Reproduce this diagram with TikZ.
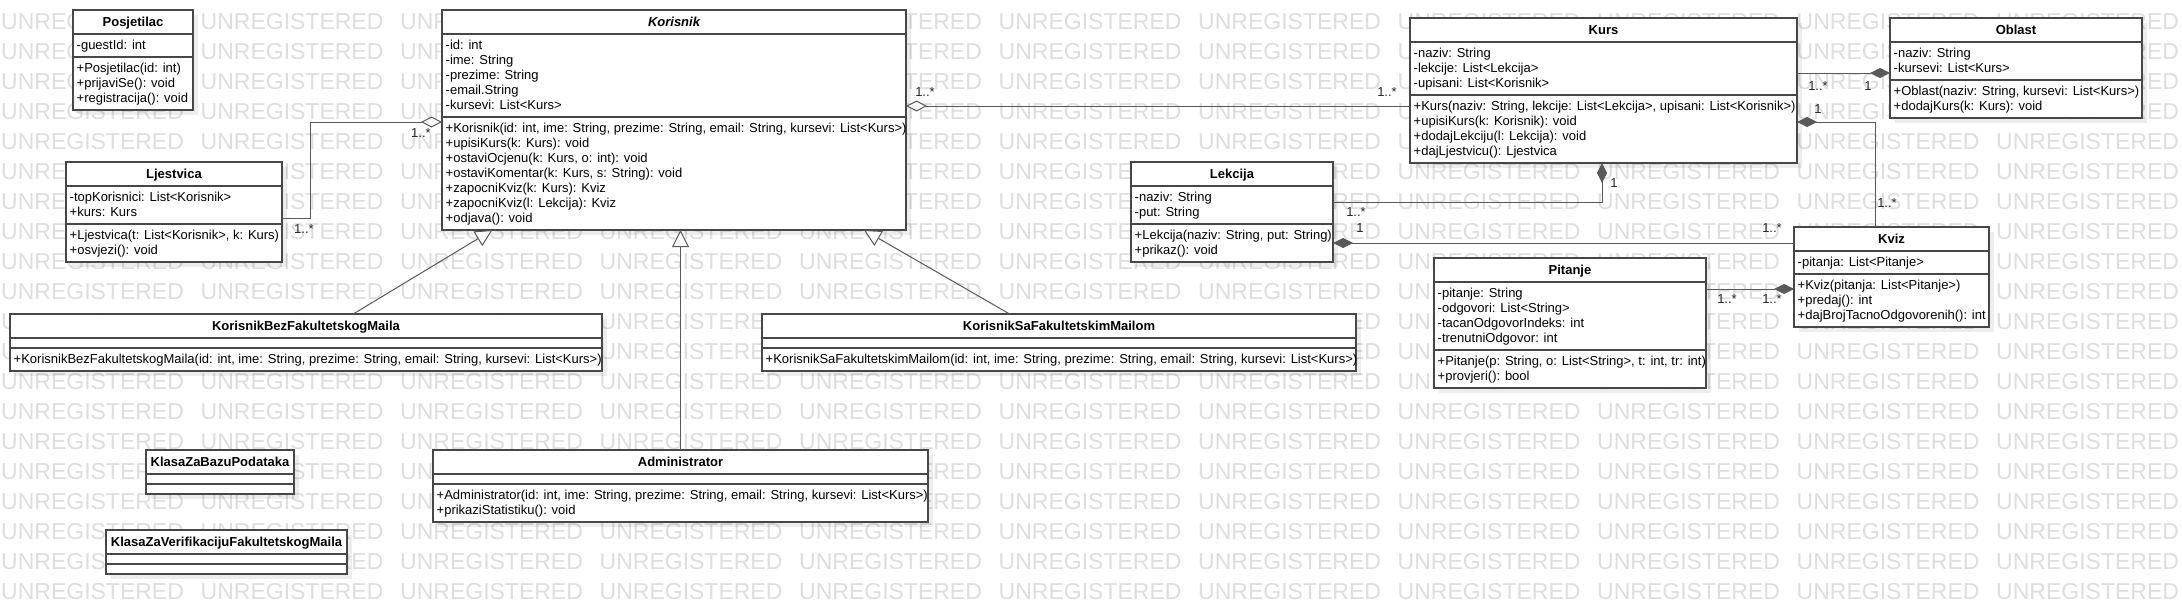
\documentclass[tikz,border=0pt]{standalone}
\usepackage{fontspec}
\setmainfont{Liberation Sans}
\usetikzlibrary{arrows.meta,calc}
\tikzset{
  box/.style={draw=black!72, line width=1.1pt, fill=white, inner sep=0pt, outer sep=0pt, anchor=north west},
  shadowbox/.style={fill=black, fill opacity=0.07, draw=none, inner sep=0pt, outer sep=0pt, anchor=north west},
  divider/.style={draw=black!72, line width=1.1pt},
  ttl/.style={font=\bfseries\fontsize{13}{15}\selectfont, anchor=base, inner sep=0pt},
  txt/.style={font=\fontsize{13}{15}\selectfont, anchor=north west, inner sep=0pt, align=left},
  lbl/.style={font=\fontsize{13}{15}\selectfont, inner sep=0pt, text=black!85},
  conn/.style={draw=black!65, line width=1pt},
  odia/.style={conn, {Diamond[length=21pt,width=11pt,fill=white]}-},
  fdia/.style={conn, {Diamond[length=20pt,width=10pt]}-},
  gen/.style={conn, -{Triangle[length=17pt,width=17pt,fill=white]}},
  wmark/.style={font=\fontsize{23}{23}\selectfont, text=black!13, inner sep=0pt, anchor=west},
}
% #1 name, #2 x, #3 y, #4 width, #5 no. attrs, #6 no. methods, #7 title, #8 attrs, #9 methods
\newcommand\umlcls[9]{%
  \pgfmathsetmacro\hA{(#5==0) ? 10 : #5*15+8}%
  \pgfmathsetmacro\hM{(#6==0) ? 10 : #6*15+8}%
  \pgfmathsetmacro\hH{\hA+\hM+24}%
  \node[shadowbox, minimum width=#4pt, minimum height=\hH pt] (#1-sh) at (#2+5,#3+5) {};
  \node[box, minimum width=#4pt, minimum height=\hH pt] (#1) at (#2,#3) {};
  \draw[divider] (#2,#3+24) -- ++(#4,0) (#2,#3+24+\hA) -- ++(#4,0);
  \node[ttl] (#1-t) at (#2+#4/2,#3+16.7) {#7};
  \node[txt] (#1-a) at (#2+3.5,#3+28.6) {\rule{0pt}{11pt}#8};
  \node[txt] (#1-m) at (#2+3.5,#3+28.6+\hA) {\rule{0pt}{11pt}#9};
}
\begin{document}
\begin{tikzpicture}[x=1pt,y=-1pt]
\fill[white] (0,0) rectangle (2182,614);
\useasboundingbox (0,0) rectangle (2182,614);
% watermark
\foreach \j in {0,...,19}{
  \foreach \i in {0,...,10}{
    \node[wmark] (wm\i-\j) at (1+199.5*\i, 22+30*\j) {UNREGISTERED};
  }
}
% classes
\umlcls{pos}{73}{10}{120}{1}{3}{Posjetilac}
  {-guestId: int}
  {+Posjetilac(id: int)\\+prijaviSe(): void\\+registracija(): void}
\umlcls{kor}{442}{10}{464}{5}{7}{\itshape Korisnik}
  {-id: int\\-ime: String\\-prezime: String\\-email.String\\-kursevi: List<Kurs>}
  {+Korisnik(id: int, ime: String, prezime: String, email: String, kursevi: List<Kurs>)\\+upisiKurs(k: Kurs): void\\+ostaviOcjenu(k: Kurs, o: int): void\\+ostaviKomentar(k: Kurs, s: String): void\\+zapocniKviz(k: Kurs): Kviz\\+zapocniKviz(l: Lekcija): Kviz\\+odjava(): void}
\umlcls{lj}{66}{162}{216}{2}{2}{Ljestvica}
  {-topKorisnici: List<Korisnik>\\+kurs: Kurs}
  {+Ljestvica(t: List<Korisnik>, k: Kurs)\\+osvjezi(): void}
\umlcls{kurs}{1410}{18}{387}{3}{4}{Kurs}
  {-naziv: String\\-lekcije: List<Lekcija>\\-upisani: List<Korisnik>}
  {+Kurs(naziv: String, lekcije: List<Lekcija>, upisani: List<Korisnik>)\\+upisiKurs(k: Korisnik): void\\+dodajLekciju(l: Lekcija): void\\+dajLjestvicu(): Ljestvica}
\umlcls{obl}{1890}{18}{252}{2}{2}{Oblast}
  {-naziv: String\\-kursevi: List<Kurs>}
  {+Oblast(naziv: String, kursevi: List<Kurs>)\\+dodajKurs(k: Kurs): void}
\umlcls{lek}{1131}{162}{202}{2}{2}{Lekcija}
  {-naziv: String\\-put: String}
  {+Lekcija(naziv: String, put: String)\\+prikaz(): void}
\umlcls{kviz}{1794}{227}{195}{1}{3}{Kviz}
  {-pitanja: List<Pitanje>}
  {+Kviz(pitanja: List<Pitanje>)\\+predaj(): int\\+dajBrojTacnoOdgovorenih(): int}
\umlcls{pit}{1434}{258}{272}{4}{2}{Pitanje}
  {-pitanje: String\\-odgovori: List<String>\\-tacanOdgovorIndeks: int\\-trenutniOdgovor: int}
  {+Pitanje(p: String, o: List<String>, t: int, tr: int)\\+provjeri(): bool}
\umlcls{bez}{10}{314}{592}{0}{1}{KorisnikBezFakultetskogMaila}
  {}
  {+KorisnikBezFakultetskogMaila(id: int, ime: String, prezime: String, email: String, kursevi: List<Kurs>)}
\umlcls{sa}{762}{314}{594}{0}{1}{KorisnikSaFakultetskimMailom}
  {}
  {+KorisnikSaFakultetskimMailom(id: int, ime: String, prezime: String, email: String, kursevi: List<Kurs>)}
\umlcls{adm}{433}{450}{495}{0}{2}{Administrator}
  {}
  {+Administrator(id: int, ime: String, prezime: String, email: String, kursevi: List<Kurs>)\\+prikaziStatistiku(): void}
\umlcls{baza}{146}{450}{148}{0}{0}{KlasaZaBazuPodataka}{}{}
\umlcls{ver}{106}{530}{241}{0}{0}{KlasaZaVerifikacijuFakultetskogMaila}{}{}
% connectors
\draw[odia] ([yshift=-112pt]kor.north west) -- ++(-132,0) |- ([yshift=-56pt]lj.north east);
\draw[odia] ([yshift=-96pt]kor.north east) -- ([yshift=-88pt]kurs.north west);
\draw[fdia] ([yshift=-55pt]obl.north west) -- ([yshift=-55pt]kurs.north east);
\draw[fdia] ([yshift=-104pt]kurs.north east) -| ([xshift=81pt]kviz.north west);
\draw[fdia] ([xshift=192pt]kurs.south west) |- ([yshift=-40pt]lek.north east);
\draw[fdia] ([yshift=-81pt]lek.north east) -- ([yshift=-16pt]kviz.north west);
\draw[fdia] ([yshift=-62pt]kviz.north west) -- ([yshift=-31pt]pit.north east);
\draw[gen] (bez) -- (kor);
\draw[gen] (sa) -- (kor);
\draw[gen] (adm.north) -- (adm.north |- kor.south);
% multiplicities
\node[lbl] (m1) at (304,229) {1..*};
\node[lbl] (m2) at (421,133) {1..*};
\node[lbl] (m3) at (925,92) {1..*};
\node[lbl] (m4) at (1387,92) {1..*};
\node[lbl] (m5) at (1818,86) {1..*};
\node[lbl] (m6) at (1868,86) {1};
\node[lbl] (m7) at (1818,109) {1};
\node[lbl] (m8) at (1887,203) {1..*};
\node[lbl] (m9) at (1614,183) {1};
\node[lbl] (m10) at (1356,212) {1..*};
\node[lbl] (m11) at (1360,228) {1};
\node[lbl] (m12) at (1772,228) {1..*};
\node[lbl] (m13) at (1727,299) {1..*};
\node[lbl] (m14) at (1772,299) {1..*};
\end{tikzpicture}
\end{document}
